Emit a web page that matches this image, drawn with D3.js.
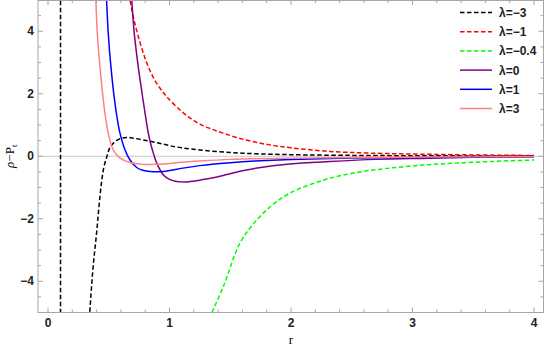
<!DOCTYPE html>
<html>
<head>
<meta charset="utf-8">
<script src="https://cdn.jsdelivr.net/npm/d3@7"></script>
<style>
  body { margin: 0; background: #fff; }
  svg { display: block; }
  .tick-label { font-family: "Liberation Sans", Arial, sans-serif; font-size: 12px; font-weight: bold; fill: #222; }
  .legend text { font-family: "Liberation Sans", Arial, sans-serif; font-size: 12px; font-weight: bold; fill: #222; }
</style>
</head>
<body>
<script>
// series values: [r, rho - Pt]
var lambdaLabels = ["\u03bb=\u22123", "\u03bb=\u22121", "\u03bb=\u22120.4", "\u03bb=0", "\u03bb=1", "\u03bb=3"];

var blackAsymptote = [[0.103, 5.2], [0.103, -5.2]];
var blackValues = [[0.34, -5.2], [0.37, -3.6], [0.40, -2.45], [0.42, -1.6], [0.44, -0.85], [0.46, -0.35],
  [0.485, 0.0], [0.51, 0.28], [0.55, 0.46], [0.593, 0.56], [0.648, 0.6], [0.70, 0.58], [0.784, 0.52],
  [0.9, 0.43], [1.0, 0.34], [1.1, 0.27], [1.25, 0.2], [1.5, 0.12], [1.72, 0.078], [2.0, 0.05],
  [2.5, 0.028], [3.0, 0.017], [3.5, 0.011], [4.0, 0.008]];
var redValues = [[0.665, 5.2], [0.70, 4.5], [0.74, 3.88], [0.80, 3.12], [0.85, 2.65], [0.895, 2.33],
  [0.95, 2.03], [0.99, 1.85], [1.086, 1.48], [1.17, 1.22], [1.25, 1.03], [1.34, 0.88], [1.44, 0.74],
  [1.58, 0.57], [1.72, 0.44], [1.86, 0.34], [2.0, 0.27], [2.3, 0.16], [2.65, 0.1], [3.14, 0.062],
  [3.5, 0.042], [4.0, 0.025]];
var greenValues = [[1.325, -5.2], [1.443, -4.17], [1.58, -2.78], [1.72, -2.03], [1.85, -1.55],
  [1.99, -1.18], [2.27, -0.76], [2.54, -0.52], [2.81, -0.38], [3.1, -0.28], [3.36, -0.22],
  [3.7, -0.16], [4.0, -0.12]];
var purpleValues = [[0.686, 5.2], [0.71, 3.93], [0.743, 2.86], [0.771, 2.1], [0.80, 1.35], [0.826, 0.73],
  [0.845, 0.4], [0.867, 0.1], [0.895, -0.22], [0.95, -0.6], [1.0, -0.74], [1.05, -0.8], [1.1, -0.82],
  [1.16, -0.815], [1.25, -0.765], [1.36, -0.69], [1.47, -0.585], [1.58, -0.48], [1.75, -0.36],
  [1.99, -0.25], [2.32, -0.17], [2.7, -0.1], [3.14, -0.064], [3.5, -0.035], [4.0, -0.01]];
var blueValues = [[0.48, 5.2], [0.496, 3.93], [0.518, 2.86], [0.546, 1.85], [0.57, 1.2], [0.593, 0.73],
  [0.634, 0.2], [0.675, -0.12], [0.73, -0.36], [0.78, -0.45], [0.84, -0.49], [0.95, -0.49],
  [1.11, -0.38], [1.25, -0.3], [1.35, -0.255], [1.5, -0.205], [1.7, -0.155], [2.0, -0.105], [2.5, -0.06],
  [3.0, -0.04], [3.5, -0.028], [4.0, -0.02]];
var pinkValues = [[0.392, 5.2], [0.406, 3.93], [0.428, 2.86], [0.455, 1.8], [0.475, 1.2], [0.496, 0.73],
  [0.537, 0.2], [0.593, -0.06], [0.675, -0.2], [0.784, -0.26], [0.95, -0.25], [1.1, -0.19],
  [1.25, -0.15], [1.5, -0.1], [1.7, -0.08], [2.0, -0.06], [2.5, -0.04], [3.0, -0.03], [3.5, -0.02],
  [4.0, -0.015]];

var xMajorTicks = [0, 1, 2, 3, 4];
var yMajorTicks = [-4, -2, 0, 2, 4];

var series = [
  { name: lambdaLabels[0], color: "#000000", dash: "4.5,2.5", parts: [blackAsymptote, blackValues] },
  { name: lambdaLabels[1], color: "#ff0000", dash: "4.5,2.5", parts: [redValues] },
  { name: lambdaLabels[2], color: "#00ff00", dash: "4.5,2.5", parts: [greenValues] },
  { name: lambdaLabels[3], color: "#800080", dash: null, parts: [purpleValues] },
  { name: lambdaLabels[4], color: "#0000ff", dash: null, parts: [blueValues] },
  { name: lambdaLabels[5], color: "#ff8080", dash: null, parts: [pinkValues] }
];

var W = 545, H = 352;
var frame = { left: 38, right: 543.5, top: 0, bottom: 312.5 };

var x = d3.scaleLinear().domain([0, 4]).range([48, 534]);
var y = d3.scaleLinear().domain([-5, 5]).range([312.5, 0]);

var svg = d3.select("body").append("svg")
    .attr("width", W)
    .attr("height", H);

svg.append("defs").append("clipPath").attr("id", "plotclip")
  .append("rect")
    .attr("x", frame.left).attr("y", frame.top)
    .attr("width", frame.right - frame.left)
    .attr("height", frame.bottom - frame.top);

// zero line
svg.append("line")
    .attr("x1", frame.left).attr("x2", frame.right)
    .attr("y1", y(0)).attr("y2", y(0))
    .attr("stroke", "#c8c8c8").attr("stroke-width", 1);

// curves
var line = d3.line()
    .x(function(d) { return x(d[0]); })
    .y(function(d) { return y(d[1]); })
    .curve(d3.curveCatmullRom.alpha(0.5));

var plot = svg.append("g").attr("clip-path", "url(#plotclip)");

series.forEach(function(s) {
  s.parts.forEach(function(p) {
    plot.append("path")
        .datum(p)
        .attr("fill", "none")
        .attr("stroke", s.color)
        .attr("stroke-width", 1.5)
        .attr("stroke-dasharray", s.dash)
        .attr("d", line);
  });
});

// frame
var frameColor = "#a6a6a6";
svg.append("rect")
    .attr("x", frame.left).attr("y", frame.top + 0.5)
    .attr("width", frame.right - frame.left)
    .attr("height", frame.bottom - frame.top - 0.5)
    .attr("fill", "none")
    .attr("stroke", frameColor)
    .attr("stroke-width", 1);

// ticks (inward, on all four sides)
var xMinor = d3.range(0, 4.01, 0.2).filter(function(v) { return Math.abs(v - Math.round(v)) > 0.01; });
var yMinor = d3.range(-4.5, 4.6, 0.5).filter(function(v) { return Math.abs(v / 2 - Math.round(v / 2)) > 0.01; });

var ticks = svg.append("g").attr("stroke", frameColor).attr("stroke-width", 1);
xMajorTicks.forEach(function(v) {
  ticks.append("line").attr("x1", x(v)).attr("x2", x(v)).attr("y1", frame.bottom).attr("y2", frame.bottom - 5);
  ticks.append("line").attr("x1", x(v)).attr("x2", x(v)).attr("y1", frame.top).attr("y2", frame.top + 5);
});
xMinor.forEach(function(v) {
  ticks.append("line").attr("x1", x(v)).attr("x2", x(v)).attr("y1", frame.bottom).attr("y2", frame.bottom - 3);
  ticks.append("line").attr("x1", x(v)).attr("x2", x(v)).attr("y1", frame.top).attr("y2", frame.top + 3);
});
yMajorTicks.forEach(function(v) {
  ticks.append("line").attr("y1", y(v)).attr("y2", y(v)).attr("x1", frame.left).attr("x2", frame.left + 5);
  ticks.append("line").attr("y1", y(v)).attr("y2", y(v)).attr("x1", frame.right).attr("x2", frame.right - 5);
});
yMinor.forEach(function(v) {
  ticks.append("line").attr("y1", y(v)).attr("y2", y(v)).attr("x1", frame.left).attr("x2", frame.left + 3);
  ticks.append("line").attr("y1", y(v)).attr("y2", y(v)).attr("x1", frame.right).attr("x2", frame.right - 3);
});

// tick labels
var fmt = function(v) { return v < 0 ? "\u2212" + Math.abs(v) : String(v); };
svg.selectAll(".xl").data(xMajorTicks).enter().append("text")
    .attr("class", "tick-label")
    .attr("x", function(d) { return x(d); })
    .attr("y", 327)
    .attr("text-anchor", "middle")
    .text(fmt);
svg.selectAll(".yl").data(yMajorTicks).enter().append("text")
    .attr("class", "tick-label")
    .attr("x", 34)
    .attr("y", function(d) { return y(d) + 4; })
    .attr("text-anchor", "end")
    .text(fmt);

// axis labels
svg.append("text")
    .attr("x", x(2)).attr("y", 344)
    .attr("text-anchor", "middle")
    .style("font-family", "'Liberation Serif', 'Times New Roman', serif")
    .style("font-size", "13px")
    .text("r");

var yl = svg.append("text")
    .attr("transform", "translate(14," + y(0) + ") rotate(-90)")
    .attr("text-anchor", "middle")
    .style("font-family", "'Liberation Serif', 'Times New Roman', serif")
    .style("font-size", "13px");
yl.append("tspan").style("font-style", "italic").text("\u03c1");
yl.append("tspan").text("\u2212P");
yl.append("tspan").attr("dy", 3).style("font-size", "9px").text("t");

// legend
var legend = svg.append("g").attr("class", "legend");
series.forEach(function(s, i) {
  var ly = 12.5 + i * 19.2;
  legend.append("line")
      .attr("x1", 460).attr("x2", 492)
      .attr("y1", ly).attr("y2", ly)
      .attr("stroke", s.color)
      .attr("stroke-width", 1.5)
      .attr("stroke-dasharray", s.dash);
  legend.append("text")
      .attr("x", 499).attr("y", ly + 4.5)
      .text(s.name);
});
</script>
</body>
</html>
